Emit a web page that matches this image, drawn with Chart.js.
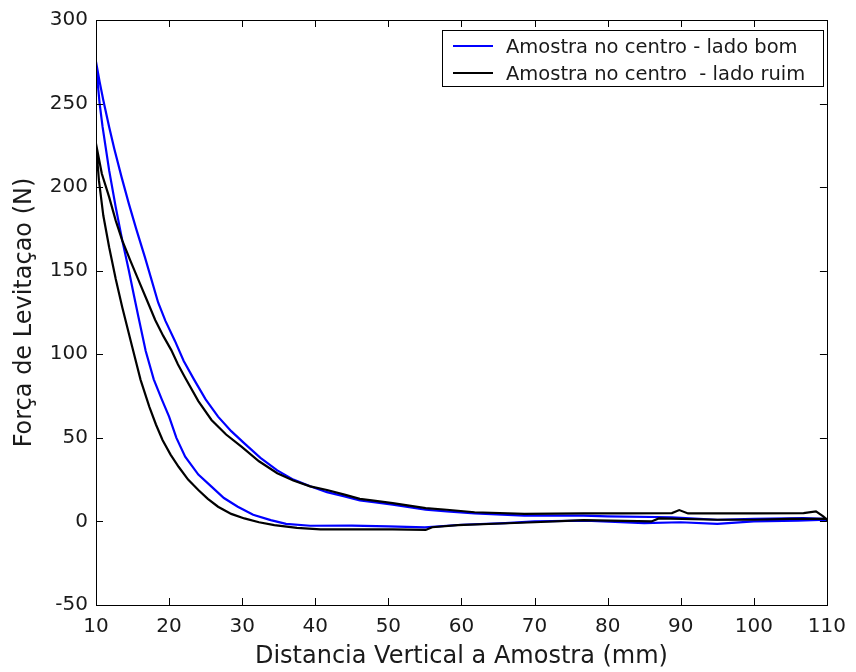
<!DOCTYPE html>
<html>
<head>
<meta charset="utf-8">
<script src="https://cdn.jsdelivr.net/npm/chart.js@4.4.0/dist/chart.umd.min.js"></script>
<style>
  html, body { margin: 0; padding: 0; background: #fff; }
  #wrap { width: 856px; height: 672px; }
</style>
</head>
<body>
<div id="wrap"><canvas id="myChart"></canvas></div>
<script>
const MY_CHART = document.querySelector("#myChart");

// tick values
const xTicks = [10, 20, 30, 40, 50, 60, 70, 80, 90, 100, 110];
const yTicks = [-50, 0, 50, 100, 150, 200, 250, 300];

// labels
const seriesNames = ['Amostra no centro - lado bom', 'Amostra no centro  - lado ruim'];

// blue - upper branch (x rising)
const blueUpX = [10, 10.5, 11, 11.8, 12.5, 13.5, 14.5, 15.5, 16.7, 17.5, 18.5, 19.5, 20.8, 22, 23.4, 25, 26.7, 28.5, 30.3, 32.5, 34.8, 37, 39.3, 41.6, 44, 46.1, 48, 50.6, 55.1, 58, 61.8, 68.6, 76.7, 80, 88.8, 95, 100, 106.8, 109.5, 110];
const blueUpY = [275, 263, 252, 236, 223, 206, 190, 175, 158, 146, 131, 120, 108, 96, 85, 73, 62.7, 54, 46.7, 38, 30.5, 25, 21, 17.5, 15, 12.5, 11.5, 10, 7, 6, 4.8, 3.5, 3.5, 3, 2.5, 1, 1.5, 2, 1.5, 0.5];
// blue - lower branch (x falling)
const blueLowX = [110, 106, 100, 95, 90, 85, 77, 70, 66, 60, 55, 50, 45, 39.3, 36, 33.9, 31.5, 29.4, 27.5, 25.8, 24, 22.2, 21, 20, 19, 17.9, 16.8, 15.8, 15.2, 14.5, 13.6, 12.7, 11.8, 10.9, 10.5, 10];
const blueLowY = [1, 0.5, 0, -1.5, -0.5, -1, 0.5, 0, -1, -2, -3.5, -3, -2.5, -2.6, -1.5, 0.8, 4, 8.8, 14, 20.8, 28, 38.7, 50, 62.7, 73, 85, 102, 122.5, 135, 150, 168, 188, 210, 236, 250, 273];

// black - upper branch
const blackUpX = [10, 10.8, 11.8, 12.7, 13.6, 14.7, 15.8, 17, 18.1, 19.2, 20.3, 21.2, 22.2, 24, 25.8, 27.8, 29.9, 32.3, 34.8, 37, 39.3, 41.6, 44, 46.1, 48, 50.6, 55.1, 58, 61.8, 68.6, 76.7, 82, 88.8, 89.8, 91, 100, 106.8, 108.5, 109.5, 110];
const blackUpY = [226, 208, 194, 180, 168, 156, 144.5, 132, 120.5, 111, 102.5, 94, 86, 72, 60.7, 52, 44.7, 36, 28.8, 24.5, 21, 18.8, 16, 13.5, 12.5, 11, 8, 7, 5.5, 4.5, 4.8, 4.8, 5, 6.8, 4.8, 4.8, 5, 6, 3, 1];
// black - lower branch
const blackLowX = [110, 105, 100, 95, 87, 86, 76.7, 70, 66.3, 59.5, 56, 55.1, 50.6, 40.7, 37.5, 34.4, 32.3, 30.3, 28.5, 26.7, 25.3, 24, 22.6, 21.3, 20.2, 19.1, 18.2, 17.3, 16.1, 14.95, 13.6, 12.7, 11.8, 11, 10.4, 10];
const blackLowY = [1.5, 1.5, 1, 1, 1.8, 0, 0.8, -0.5, -1.1, -2.2, -3.5, -5.1, -4.7, -4.7, -3.8, -2.2, -0.5, 1.8, 4.5, 8.8, 13.5, 18.8, 25, 32.7, 40, 48.7, 58, 68.6, 84.7, 104.5, 128, 145, 164, 183, 204, 226];

const FONT = "'DejaVu Sans', sans-serif";
const TEXT = '#1a1a1a';

function loop(ux, uy, lx, ly) {
  const pts = ux.map((x, i) => ({x: x, y: uy[i]}));
  return pts.concat(lx.map((x, i) => ({x: x, y: ly[i]})));
}

// box + inward ticks on all four sides, matlab style
const frame = {
  id: 'frame',
  afterDatasetsDraw(chart) {
    const {ctx, chartArea: a, scales: {x, y}} = chart;
    const len = 7;
    ctx.save();
    ctx.strokeStyle = '#000';
    ctx.lineWidth = 1;
    ctx.beginPath();
    xTicks.forEach(v => {
      const px = Math.round(x.getPixelForValue(v)) + 0.5;
      ctx.moveTo(px, a.bottom); ctx.lineTo(px, a.bottom - len);
      ctx.moveTo(px, a.top); ctx.lineTo(px, a.top + len);
    });
    yTicks.forEach(v => {
      const py = Math.round(y.getPixelForValue(v)) + 0.5;
      ctx.moveTo(a.left, py); ctx.lineTo(a.left + len, py);
      ctx.moveTo(a.right, py); ctx.lineTo(a.right - len, py);
    });
    ctx.stroke();
    ctx.strokeRect(Math.round(a.left) + 0.5, Math.round(a.top) + 0.5, Math.round(a.right - a.left), Math.round(a.bottom - a.top));
    ctx.restore();
  }
};

// legend box inside the top right corner
const boxLegend = {
  id: 'boxLegend',
  afterDraw(chart) {
    const ctx = chart.ctx;
    const bx = 442, by = 30, bw = 381, bh = 56;
    ctx.save();
    ctx.fillStyle = '#fff';
    ctx.fillRect(bx, by, bw, bh);
    ctx.strokeStyle = '#000';
    ctx.lineWidth = 1;
    ctx.strokeRect(bx + 0.5, by + 0.5, bw, bh);
    ctx.font = '19.5px ' + FONT;
    ctx.textBaseline = 'middle';
    chart.data.datasets.forEach((ds, i) => {
      const ly = by + 16 + i * 27;
      ctx.strokeStyle = ds.borderColor;
      ctx.lineWidth = 2;
      ctx.beginPath();
      ctx.moveTo(453, ly);
      ctx.lineTo(493, ly);
      ctx.stroke();
      ctx.fillStyle = TEXT;
      ctx.fillText(ds.label, 506, ly + 2);
    });
    ctx.restore();
  }
};

const data = {
  datasets: [{
    label: seriesNames[0],
    data: loop(blueUpX, blueUpY, blueLowX, blueLowY),
    borderColor: '#0000ff',
    order: 1
  }, {
    label: seriesNames[1],
    data: loop(blackUpX, blackUpY, blackLowX, blackLowY),
    borderColor: '#000000',
    order: 0
  }]
};

const CONFIG = {
  type: 'scatter',
  data: data,
  options: {
    responsive: true,
    maintainAspectRatio: false,
    animation: false,
    layout: { padding: { top: 20, right: 19, left: 0, bottom: 0 } },
    elements: {
      line: { borderWidth: 2.2, tension: 0, fill: false },
      point: { radius: 0, hoverRadius: 0 }
    },
    datasets: { scatter: { showLine: true } },
    plugins: { legend: { display: false }, tooltip: { enabled: false } },
    scales: {
      x: {
        type: 'linear',
        min: 10, max: 110,
        afterFit: s => { s.height = 67; },
        afterBuildTicks: s => { s.ticks = xTicks.map(v => ({value: v})); },
        grid: { display: false, drawTicks: false },
        border: { display: false },
        ticks: { font: { family: FONT, size: 20 }, color: TEXT, padding: 10, maxRotation: 0 },
        title: {
          display: true,
          text: 'Distancia Vertical a Amostra (mm)',
          font: { family: FONT, size: 24 },
          color: TEXT,
          padding: { top: 0, bottom: 1 }
        }
      },
      y: {
        type: 'linear',
        min: -50, max: 300,
        afterFit: s => { s.width = 96; },
        afterBuildTicks: s => { s.ticks = yTicks.map(v => ({value: v})); },
        grid: { display: false, drawTicks: false },
        border: { display: false },
        ticks: { font: { family: FONT, size: 20 }, color: TEXT, padding: 8 },
        title: {
          display: true,
          text: 'Força de Levitaçao (N)',
          font: { family: FONT, size: 24 },
          color: TEXT,
          padding: { top: 10, bottom: 0 }
        }
      }
    }
  },
  plugins: [frame, boxLegend]
};

const chart = new Chart(MY_CHART, CONFIG);
</script>
</body>
</html>
